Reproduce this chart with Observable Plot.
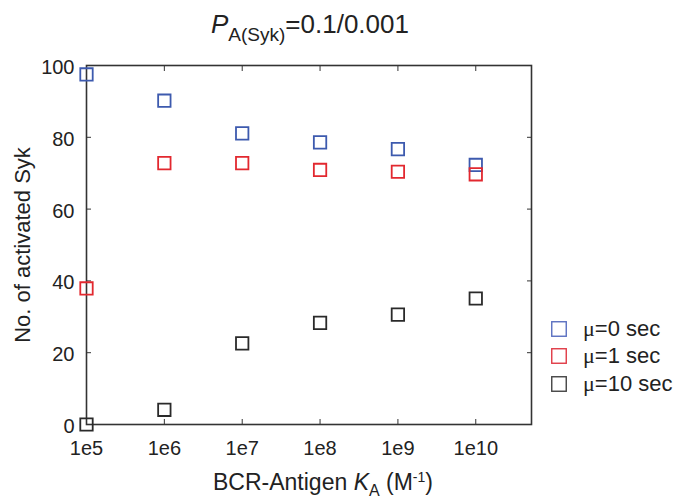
<!DOCTYPE html>
<html><head><meta charset="utf-8">
<script src="https://cdn.jsdelivr.net/npm/d3@7"></script>
<script src="https://cdn.jsdelivr.net/npm/@observablehq/plot@0.6"></script>
<style>
body{margin:0;background:#fff;font-family:"Liberation Sans",Arial,sans-serif;color:#222}
#wrap{position:relative;width:683px;height:502px;overflow:hidden}
#title{position:absolute;left:0;top:0;width:620px;text-align:center;font-size:26px;line-height:30px;padding-top:9px;white-space:nowrap}
#chart{position:absolute;left:0;top:48px}
#xlabel{position:absolute;left:0;top:462px;width:646px;text-align:center;font-size:23px;line-height:26px;padding-top:7px;white-space:nowrap}
#legend{position:absolute;left:551px;top:315px}
.row{display:flex;align-items:center;height:27.5px}
.sw{display:block;margin-right:16px}
.lt{font-size:22px;white-space:nowrap}
.mu{font-family:"Liberation Serif","DejaVu Serif",serif}
</style></head><body>
<div id="wrap">
  <div id="title"><i>P</i><span style="font-size:19px;position:relative;top:8px">A(Syk)</span>=0.1/0.001</div>
  <div id="chart"></div>
  <div id="xlabel">BCR-Antigen <i>K</i><span style="font-size:16px;position:relative;top:6px">A</span> (M<span style="font-size:14px;position:relative;top:-8px">-1</span>)</div>
  <div id="legend"></div>
</div>
<script>
const kA = [1e5, 1e6, 1e7, 1e8, 1e9, 1e10];
const xTickLabels = ["1e5", "1e6", "1e7", "1e8", "1e9", "1e10"];
const yTicks = [0, 20, 40, 60, 80, 100];
const seriesNames = ["μ=0 sec", "μ=1 sec", "μ=10 sec"];
const seriesColors = ["#3d5aae", "#e2282f", "#2a2a2a"];
const legendColors = ["#5a6fc0", "#e03a45", "#444444"];
const mu0 = [97.5, 90.2, 81.1, 78.6, 76.7, 72.3];
const mu1 = [37.9, 72.8, 72.8, 70.9, 70.4, 69.7];
const mu10 = [0, 4.1, 22.6, 28.3, 30.6, 35.1];

const seriesValues = [mu0, mu1, mu10];
const data = [];
seriesValues.forEach((vals, s) => vals.forEach((v, i) => data.push({k: kA[i], v, s: seriesNames[s]})));

const noText = () => "";
const chart = Plot.plot({
  width: 683, height: 414,
  marginTop: 17, marginBottom: 38, marginLeft: 86, marginRight: 152,
  style: {fontFamily: "Liberation Sans, Arial, sans-serif", color: "#222", background: "transparent"},
  x: {type: "log", domain: [1e5, Math.pow(10, 10.716)]},
  y: {domain: [0, 100]},
  color: {domain: seriesNames, range: seriesColors},
  marks: [
    Plot.frame({stroke: "#333", strokeWidth: 1.6}),
    Plot.axisX(kA, {tickSize: 0, tickPadding: 16, fontSize: 20, tickFormat: (d) => xTickLabels[kA.indexOf(d)], label: null}),
    Plot.axisX(kA, {tickSize: -5, tickFormat: noText, label: null, stroke: "#333"}),
    Plot.axisX(kA, {anchor: "top", tickSize: -5, tickFormat: noText, label: null, stroke: "#333"}),
    Plot.axisY(yTicks, {tickSize: 0, tickPadding: 12, fontSize: 20, dy: 2, label: null}),
    Plot.axisY(yTicks, {tickSize: -5, tickFormat: noText, label: null, stroke: "#333"}),
    Plot.axisY(yTicks, {anchor: "right", tickSize: -5, tickFormat: noText, label: null, stroke: "#333"}),
    Plot.axisY(yTicks, {tickSize: 0, tickFormat: noText, label: "No. of activated Syk", labelAnchor: "center", labelArrow: "none", labelOffset: 72, fontSize: 22}),
    Plot.dot(data, {x: "k", y: "v", stroke: "s", symbol: "square", r: 7, strokeWidth: 1.8, fill: "none"})
  ]
});
document.getElementById("chart").appendChild(chart);

const legend = document.getElementById("legend");
seriesNames.forEach((name, i) => {
  const row = document.createElement("div");
  row.className = "row";
  row.innerHTML = '<svg class="sw" width="16" height="16"><rect x="0.75" y="0.75" width="14.5" height="14.5" fill="none" stroke="' +
    legendColors[i] + '" stroke-width="1.4"/></svg>' +
    '<span class="lt"><span class="mu">μ</span>' + name.slice(1) + '</span>';
  legend.appendChild(row);
});
</script>
</body></html>
